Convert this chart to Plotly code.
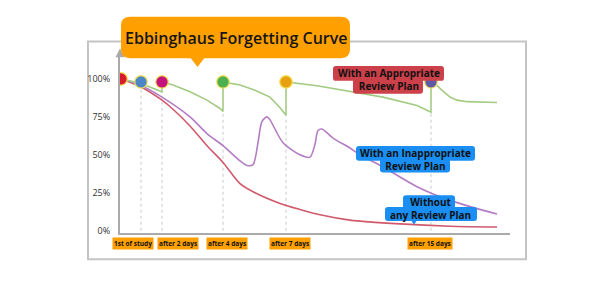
import plotly.graph_objects as go

# ---------------- data ----------------
# time axis in arbitrary units (study session at t=1)
review_t = [1, 21, 42, 103, 166, 311]
review_val = [100, 98, 98, 98, 98, 98]
review_colors = ["#d81b2c", "#4b86c6", "#c4137c", "#4caf50", "#e8a010", "#5d5aa8"]
dip_val = [100, 93, 91.5, 78.5, 76, 78]  # retention just before each review

appropriate_t = [1, 21, 42, 42, 53, 70, 87, 100, 103, 103, 120, 135, 150, 160, 166, 166,
                 197, 230, 263, 297, 311, 311, 317, 323, 330, 337, 347, 377]
appropriate_v = [100, 97, 91.5, 98, 96, 91.5, 86, 80.5, 78.5, 98, 96, 92.5, 88, 81, 76, 98,
                 95.5, 92, 88, 82.5, 78, 98, 95.5, 92, 88, 86, 85, 84.5]

inappropriate_t = [1, 20, 42, 70, 87, 103, 120, 127, 133, 138, 142, 147, 150, 163, 180, 190,
                   195, 198, 202, 213, 230, 240, 263, 297, 330, 377]
inappropriate_v = [100, 96, 88, 75, 64, 56, 46, 43, 43.5, 58, 72, 75, 73, 58, 50, 48.5,
                   57, 66, 67, 61, 54.5, 50, 42, 29, 20, 11]

without_t = [1, 20, 42, 53, 70, 87, 103, 120, 135, 160, 180, 200, 230, 280, 330, 377]
without_v = [100, 95, 86, 80, 69, 56, 45, 31, 25, 18, 14, 10.5, 7, 4.5, 3, 2.5]

y_ticks = [0, 25, 50, 75, 100]
y_ticktext = ["0%", "25%", "50%", "75%", "100%"]
stage_labels = ["1st of study", "after 2 days", "after 4 days", "after 7 days", "after 15 days"]
title_text = "Ebbinghaus Forgetting Curve"
label_appropriate = "With an Appropriate<br>Review Plan"
label_inappropriate = "With an Inappropriate<br>Review Plan"
label_without = "Without<br>any Review Plan"

# ---------------- layout helpers (pixel -> paper) ----------------
W, H = 600, 288
def px(x):
    return x / W
def py(y):
    return 1 - y / H

def rrect(x0, y0, x1, y1, r, color):
    rx, ry = r / W, r / H
    X0, X1 = px(x0), px(x1)
    Y0, Y1 = py(y0), py(y1)  # Y0 top, Y1 bottom (paper)
    path = (f"M {X0+rx},{Y0} L {X1-rx},{Y0} Q {X1},{Y0} {X1},{Y0-ry} "
            f"L {X1},{Y1+ry} Q {X1},{Y1} {X1-rx},{Y1} L {X0+rx},{Y1} "
            f"Q {X0},{Y1} {X0},{Y1+ry} L {X0},{Y0-ry} Q {X0},{Y0} {X0+rx},{Y0} Z")
    return dict(type="path", xref="paper", yref="paper", path=path,
                fillcolor=color, line=dict(width=0), layer="above")

def tri(pts, color):
    p = "M " + " L ".join(f"{px(a)},{py(b)}" for a, b in pts) + " Z"
    return dict(type="path", xref="paper", yref="paper", path=p,
                fillcolor=color, line=dict(width=0), layer="above")

fig = go.Figure()

# dashed review guides
gx, gy = [], []
for t, d in zip(review_t[1:], dip_val[1:]):
    gx += [t, t, None]
    gy += [0, d, None]
fig.add_trace(go.Scatter(x=gx, y=gy, mode="lines",
                         line=dict(color="#c9c9c9", width=1, dash="3px,3px"),
                         hoverinfo="skip", showlegend=False))

fig.add_trace(go.Scatter(x=without_t, y=without_v, mode="lines",
                         line=dict(color="#d05a6c", width=1.6, shape="spline", smoothing=0.8),
                         showlegend=False))
fig.add_trace(go.Scatter(x=inappropriate_t, y=inappropriate_v, mode="lines",
                         line=dict(color="#b47cc4", width=1.6, shape="spline", smoothing=0.8),
                         showlegend=False))
fig.add_trace(go.Scatter(x=appropriate_t, y=appropriate_v, mode="lines",
                         line=dict(color="#a3cb82", width=1.6),
                         showlegend=False))
fig.add_trace(go.Scatter(x=review_t, y=review_val, mode="markers",
                         marker=dict(size=12.5, color=review_colors,
                                     line=dict(color="#f3e15a", width=1.2)),
                         showlegend=False))

shapes = []
# outer frame
shapes.append(dict(type="rect", xref="paper", yref="paper",
                   x0=px(88), x1=px(526), y0=py(263), y1=py(42),
                   line=dict(color="#c4c4c4", width=2), layer="below"))
# y axis arrow
shapes.append(tri([(115.5, 58), (124.5, 58), (120, 49)], "#aaaaaa"))
# title bubble
shapes.append(rrect(121, 17, 350, 59, 9, "#ffa000"))
shapes.append(tri([(190, 58), (205, 58), (197.5, 68)], "#ffa000"))
# label boxes
shapes.append(rrect(333, 67, 444, 82, 3, "#cb4049"))
shapes.append(rrect(353, 80, 423, 95, 3, "#cb4049"))
shapes.append(rrect(356, 148, 475, 163, 3, "#1a8ef2"))
shapes.append(rrect(380, 161, 450, 175, 3, "#1a8ef2"))
shapes.append(rrect(403, 198, 455, 212, 3, "#1a8ef2"))
shapes.append(rrect(385, 210, 477, 224, 3, "#1a8ef2"))
shapes.append(tri([(411, 223), (417, 223), (414, 228)], "#1a8ef2"))

annotations = []
annotations.append(dict(xref="paper", yref="paper", x=px(235.5), y=py(38.5),
                        xanchor="center", yanchor="middle",
                        text=title_text, showarrow=False,
                        font=dict(family="Open Sans", size=16, color="#151515", weight=600)))

def label(text, cx, cy):
    annotations.append(dict(xref="paper", yref="paper", x=px(cx), y=py(cy),
                            xanchor="center", yanchor="middle", align="center",
                            text=text, showarrow=False,
                            font=dict(family="Open Sans", size=10, color="#111111", weight="bold")))

label(label_appropriate, 388.5, 81)
label(label_inappropriate, 415.5, 161.5)
label(label_without, 430, 211)

stage_cx = [132.5, 178, 226.5, 290, 430]
for t, cx in zip(stage_labels, stage_cx):
    annotations.append(dict(xref="paper", yref="paper", x=px(cx), y=py(246.5),
                            xanchor="center", yanchor="middle",
                            text=t, showarrow=False, bgcolor="#ffa000", borderpad=1,
                            font=dict(family="Open Sans", size=6.5, color="#111111", weight="bold")))

fig.update_layout(
    width=W, height=H, margin=dict(l=0, r=0, t=0, b=0),
    paper_bgcolor="white", plot_bgcolor="white",
    shapes=shapes, annotations=annotations,
    xaxis=dict(domain=[px(120), px(510)], range=[0, 390], showgrid=False, zeroline=False,
               showticklabels=False, ticks="", showline=True, linecolor="#aaaaaa", linewidth=2),
    yaxis=dict(domain=[py(236), py(57)], range=[(234 - 236) / 1.54, (234 - 57) / 1.54],
               showgrid=False, zeroline=False, tickvals=y_ticks, ticktext=y_ticktext,
               ticks="", showline=True, linecolor="#aaaaaa", linewidth=2,
               ticklabelstandoff=6,
               tickfont=dict(family="Open Sans", size=9, color="#333333")),
)

fig.write_html("out.html")
